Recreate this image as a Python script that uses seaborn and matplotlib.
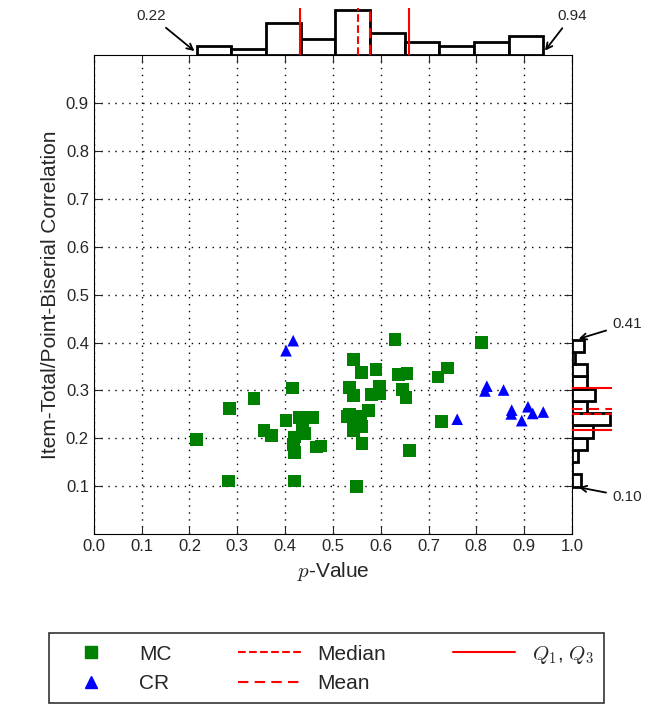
import numpy as np
import matplotlib
matplotlib.use("Agg")
import matplotlib.pyplot as plt
import seaborn as sns
from matplotlib.lines import Line2D

# multiple choice items (p-value, correlation)
mc_p = [0.215, 0.283, 0.282, 0.335, 0.356, 0.372, 0.402, 0.415, 0.43, 0.457, 0.437, 0.42,
        0.417, 0.419, 0.42, 0.466, 0.475, 0.5425, 0.56, 0.59, 0.535, 0.543, 0.58, 0.598,
        0.598, 0.637, 0.655, 0.646, 0.653, 0.63, 0.811, 0.72, 0.74, 0.727, 0.661, 0.549,
        0.561, 0.53, 0.543, 0.557, 0.574, 0.543, 0.56, 0.55, 0.535, 0.44]
mc_r = [0.198, 0.262, 0.111, 0.283, 0.217, 0.206, 0.238, 0.305, 0.243, 0.243, 0.222, 0.203,
        0.187, 0.171, 0.111, 0.182, 0.184, 0.365, 0.337, 0.343, 0.307, 0.289, 0.291, 0.309,
        0.293, 0.333, 0.336, 0.302, 0.285, 0.406, 0.401, 0.328, 0.347, 0.235, 0.174, 0.099,
        0.19, 0.245, 0.238, 0.245, 0.259, 0.217, 0.224, 0.23, 0.25, 0.21]
# constructed response items
cr_p = [0.402, 0.417, 0.76, 0.822, 0.818, 0.857, 0.874, 0.873, 0.908, 0.918, 0.895, 0.94]
cr_r = [0.383, 0.404, 0.240, 0.309, 0.299, 0.301, 0.259, 0.251, 0.266, 0.252, 0.237, 0.255]

sns.set_style("ticks")
plt.rcParams['font.family'] = ['Liberation Sans', 'DejaVu Sans']
plt.rcParams['mathtext.fontset'] = 'cm'

all_p = np.array(mc_p + cr_p)
all_r = np.array(mc_r + cr_r)

fig = plt.figure(figsize=(6.47, 7.17), dpi=100)
ax = fig.add_axes([0.145, 0.255, 0.739, 0.668])
axt = fig.add_axes([0.145, 0.923, 0.739, 0.066], sharex=ax)
axr = fig.add_axes([0.884, 0.255, 0.062, 0.668], sharey=ax)

sns.scatterplot(x=mc_p, y=mc_r, marker='s', color='green', s=85, edgecolor='none', ax=ax)
sns.scatterplot(x=cr_p, y=cr_r, marker='^', color='blue', s=70, edgecolor='none', ax=ax)
ax.set_xlim(0, 1)
ax.set_ylim(0, 1)
ax.set_xticks(np.arange(0, 1.01, 0.1))
ax.set_yticks(np.arange(0.1, 0.95, 0.1))
ax.grid(True, linestyle=(0, (1, 4)), color='black', linewidth=1)
ax.tick_params(direction='in', top=True, right=True, labelsize=12, length=6)
for s in ax.spines.values():
    s.set_color('black')
ax.set_xlabel("$p$-Value", fontsize=15)
ax.set_ylabel("Item-Total/Point-Biserial Correlation", fontsize=15)

arrow = dict(arrowstyle='->', color='black', lw=1.3)

# top histogram
axt.hist(all_p, bins=np.linspace(all_p.min(), all_p.max(), 11), histtype='bar',
         facecolor='white', edgecolor='black', linewidth=2)
q1, med, q3 = np.percentile(all_p, [25, 50, 75])
for q in (q1, q3):
    axt.axvline(q, color='red', linewidth=1.5)
axt.axvline(med, color='red', linestyle='--', linewidth=1.5)
axt.axvline(all_p.mean(), color='red', linestyle=(0, (5, 3)), linewidth=1.5)
axt.axis('off')
axt.set_ylim(0, None)
axt.annotate("0.22", xy=(all_p.min(), 0.05), xycoords=('data', 'axes fraction'),
             xytext=(0.12, 0.75), textcoords=('data', 'axes fraction'), fontsize=11,
             ha='center', arrowprops=arrow, annotation_clip=False)
axt.annotate("0.94", xy=(all_p.max(), 0.05), xycoords=('data', 'axes fraction'),
             xytext=(1.0, 0.75), textcoords=('data', 'axes fraction'), fontsize=11,
             ha='center', arrowprops=arrow, annotation_clip=False)

# right histogram
axr.hist(all_r, bins=np.linspace(all_r.min(), all_r.max(), 13), histtype='bar',
         facecolor='white', edgecolor='black', linewidth=2, orientation='horizontal')
q1, med, q3 = np.percentile(all_r, [25, 50, 75])
for q in (q1, q3):
    axr.axhline(q, color='red', linewidth=1.5)
axr.axhline(med, color='red', linestyle='--', linewidth=1.5)
axr.axhline(all_r.mean(), color='red', linestyle=(0, (5, 3)), linewidth=1.5)
axr.axis('off')
axr.set_xlim(0, None)
axr.annotate("0.41", xy=(0.1, all_r.max()), xycoords=('axes fraction', 'data'),
             xytext=(1.0, 0.43), textcoords=('axes fraction', 'data'), fontsize=11,
             arrowprops=arrow, annotation_clip=False)
axr.annotate("0.10", xy=(0.1, all_r.min()), xycoords=('axes fraction', 'data'),
             xytext=(1.0, 0.07), textcoords=('axes fraction', 'data'), fontsize=11,
             arrowprops=arrow, annotation_clip=False)

handles = [
    Line2D([], [], marker='s', color='green', linestyle='none', markersize=8),
    Line2D([], [], marker='^', color='blue', linestyle='none', markersize=8),
    Line2D([], [], color='red', linestyle='--', linewidth=1.5),
    Line2D([], [], color='red', linestyle=(0, (5, 3)), linewidth=1.5),
    Line2D([], [], color='red', linewidth=1.5),
]
labels = ["MC", "CR", "Median", "Mean", "$Q_1$, $Q_3$"]
leg = fig.legend(handles, labels, ncol=3, loc='center', bbox_to_anchor=(0.505, 0.068),
                 fontsize=15, frameon=True, fancybox=False, edgecolor='black',
                 columnspacing=3.2, handlelength=3.0, borderpad=0.5)
leg.get_frame().set_linewidth(1.2)

fig.savefig("out.png", dpi=100)
